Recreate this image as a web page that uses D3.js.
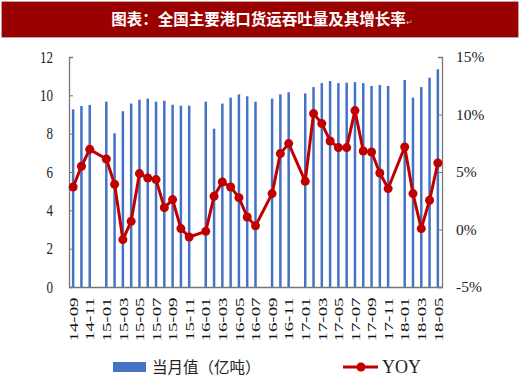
<!DOCTYPE html>
<html>
<head>
<meta charset="utf-8">
<script src="https://cdn.jsdelivr.net/npm/d3@7"></script>
<style>
  body { margin: 0; background: #fff; }
  svg { display: block; }
</style>
</head>
<body>
<svg></svg>
<script>
// 14-09 .. 18-05, one slot per month; null = no value that month
const months = ['14-09','14-10','14-11','14-12','15-01','15-02','15-03','15-04','15-05','15-06','15-07','15-08',
                '15-09','15-10','15-11','15-12','16-01','16-02','16-03','16-04','16-05','16-06','16-07','16-08',
                '16-09','16-10','16-11','16-12','17-01','17-02','17-03','17-04','17-05','17-06','17-07','17-08',
                '17-09','17-10','17-11','17-12','18-01','18-02','18-03','18-04','18-05']
const volume = [9.27, 9.44, 9.50, null, 9.67, 8.02, 9.17, 9.57, 9.77, 9.83, 9.67, 9.72,
                9.51, 9.46, 9.46, null, 9.67, 8.26, 9.57, 9.88, 10.05, 9.95, 9.67, null,
                9.83, 10.05, 10.16, null, 10.10, 10.43, 10.64, 10.75, 10.64, 10.66, 10.69, 10.64,
                10.49, 10.54, 10.49, null, 10.80, 9.88, 10.43, 10.92, 11.36]
const yoy = [3.7, 5.5, 6.97, null, 6.13, 3.93, -0.88, 0.71, 4.86, 4.48, 4.34, 1.9,
             2.6, 0.08, -0.65, null, -0.16, 2.89, 4.13, 3.7, 2.77, 1.09, 0.32, null,
             3.12, 6.6, 7.47, null, 4.19, 10.08, 9.21, 7.7, 7.12, 7.12, 10.34, 6.83,
             6.74, 4.91, 3.56, null, 7.17, 3.12, 0.08, 2.54, 5.78]
const leftTicks = [0, 2, 4, 6, 8, 10, 12]
const rightTicks = [-5, 0, 5, 10, 15]

const width = 520
const height = 379
const plotLeft = 69
const plotRight = 442
const plotTop = 57
const plotBottom = 287
const blue = '#4472C4'
const red = '#C00000'
const serif = '"Liberation Serif", "Times New Roman", serif'
const cjk = '"Noto Sans CJK SC", sans-serif'

const svg = d3.select('svg')
    .attr('width', width)
    .attr('height', height)

// title banner
svg.append('rect')
    .attr('x', 1.5).attr('y', 1.5)
    .attr('width', 517).attr('height', 36)
    .attr('fill', '#990000')
    .attr('stroke', '#c9a0a0')
svg.append('text')
    .attr('x', 262)
    .attr('y', 25)
    .attr('text-anchor', 'middle')
    .attr('fill', '#fff')
    .attr('font-family', cjk)
    .attr('font-weight', 'bold')
    .attr('font-size', '15.5px')
    .text('图表：全国主要港口货运吞吐量及其增长率')
  .append('tspan')
    .attr('font-size', '8px')
    .attr('font-weight', 'normal')
    .attr('fill', '#bbb')
    .text('↵')

const x = d3.scaleBand()
    .domain(months)
    .range([plotLeft, plotRight])
const y = d3.scaleLinear()
    .domain([0, 12])
    .range([plotBottom, plotTop])
const yRight = d3.scaleLinear()
    .domain([-5, 15])
    .range([plotBottom, plotTop])

// bars
svg.append('g')
    .selectAll('rect')
    .data(months.map((m, i) => ({ m, v: volume[i] })).filter(d => d.v != null))
    .enter()
    .append('rect')
        .attr('x', d => x(d.m) + x.bandwidth() / 2 - 1.25)
        .attr('y', d => y(d.v))
        .attr('width', 2.5)
        .attr('height', d => y(0) - y(d.v))
        .attr('fill', blue)

// axes
const leftAxis = svg.append('g')
    .attr('transform', 'translate(' + plotLeft + ',0)')
    .call(d3.axisLeft(y).tickValues(leftTicks).tickSizeInner(-4).tickSizeOuter(-4).tickPadding(16))
leftAxis.selectAll('text')
    .attr('font-family', serif)
    .attr('font-size', '13px')
    .attr('fill', '#222')
    .attr('transform', 'scale(1,1.22)')

const rightAxis = svg.append('g')
    .attr('transform', 'translate(' + plotRight + ',0)')
    .call(d3.axisRight(yRight).tickValues(rightTicks).tickFormat(d => d + '%')
        .tickSizeInner(-4).tickSizeOuter(-4).tickPadding(14))
rightAxis.selectAll('text')
    .attr('font-family', serif)
    .attr('font-size', '15.5px')
    .attr('fill', '#222')

const bottomAxis = svg.append('g')
    .attr('transform', 'translate(0,' + plotBottom + ')')
    .call(d3.axisBottom(x).tickValues(months.filter((d, i) => i % 2 === 0)).tickSize(0))
bottomAxis.selectAll('text')
    .attr('font-family', serif)
    .attr('font-size', '13.5px')
    .attr('fill', '#111')
    .attr('text-anchor', 'end')
    .attr('x', -7.5)
    .attr('y', 0)
    .attr('dy', '0.35em')
    .attr('transform', 'rotate(-90) scale(1.4,1)')

svg.selectAll('.domain').attr('stroke', '#777').attr('stroke-width', 1.3)
svg.selectAll('.tick line').attr('stroke', '#777')

// YOY line
const yoyPoints = months.map((m, i) => ({ m, v: yoy[i] })).filter(d => d.v != null)
svg.append('path')
    .datum(yoyPoints)
    .attr('fill', 'none')
    .attr('stroke', red)
    .attr('stroke-width', 3)
    .attr('stroke-linejoin', 'round')
    .attr('d', d3.line()
        .x(d => x(d.m) + x.bandwidth() / 2)
        .y(d => yRight(d.v)))
svg.append('g')
    .selectAll('circle')
    .data(yoyPoints)
    .enter()
    .append('circle')
        .attr('cx', d => x(d.m) + x.bandwidth() / 2)
        .attr('cy', d => yRight(d.v))
        .attr('r', 4.5)
        .attr('fill', red)

// legend
svg.append('rect')
    .attr('x', 113).attr('y', 362)
    .attr('width', 33).attr('height', 10)
    .attr('fill', blue)
svg.append('text')
    .attr('x', 152).attr('y', 373)
    .attr('font-family', cjk)
    .attr('font-size', '15.5px')
    .attr('fill', '#222')
    .text('当月值（亿吨）')
svg.append('line')
    .attr('x1', 343).attr('x2', 378)
    .attr('y1', 367).attr('y2', 367)
    .attr('stroke', red)
    .attr('stroke-width', 3)
svg.append('circle')
    .attr('cx', 361).attr('cy', 367)
    .attr('r', 4.5)
    .attr('fill', red)
svg.append('text')
    .attr('x', 382).attr('y', 373)
    .attr('font-family', serif)
    .attr('font-size', '18px')
    .attr('fill', '#222')
    .text('YOY')
</script>
</body>
</html>
